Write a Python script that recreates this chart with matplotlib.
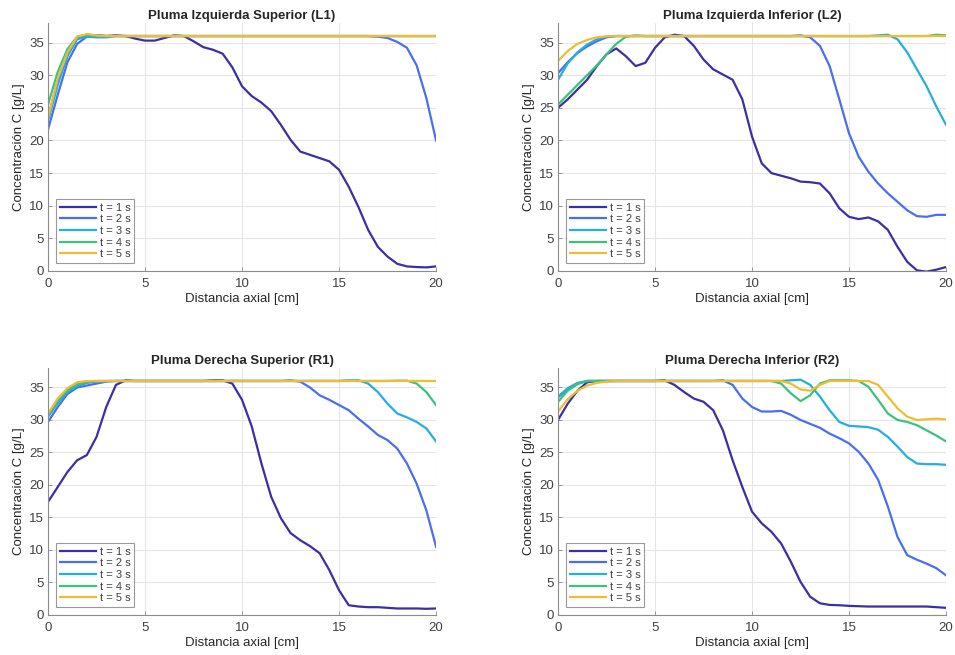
import numpy as np
import matplotlib
matplotlib.use("Agg")
import matplotlib.pyplot as plt

plt.rcParams['font.family'] = ['Liberation Sans', 'DejaVu Sans']

# posicion axial (cm)
x = [0.0, 0.5, 1.0, 1.5, 2.0, 2.5, 3.0, 3.5, 4.0, 4.5, 5.0, 5.5, 6.0, 6.5,
     7.0, 7.5, 8.0, 8.5, 9.0, 9.5, 10.0, 10.5, 11.0, 11.5, 12.0, 12.5, 13.0,
     13.5, 14.0, 14.5, 15.0, 15.5, 16.0, 16.5, 17.0, 17.5, 18.0, 18.5, 19.0,
     19.5, 20.0]

labels = ['t = 1 s', 't = 2 s', 't = 3 s', 't = 4 s', 't = 5 s']
colors = ['#3B2FA6', '#4A6EF2', '#25AEE0', '#3CC27B', '#F0BC32']

titles = ['Pluma Izquierda Superior (L1)', 'Pluma Izquierda Inferior (L2)',
          'Pluma Derecha Superior (R1)', 'Pluma Derecha Inferior (R2)']

# L1
L1_t1 = [23.5, 29.0, 33.0, 35.8, 36.2, 36.1, 36.0, 36.1, 36.0, 35.6, 35.3, 35.3, 35.7, 36.1,
         36.0, 35.2, 34.3, 33.9, 33.3, 31.2, 28.3, 26.8, 25.8, 24.5, 22.4, 20.1, 18.3,
         17.8, 17.3, 16.8, 15.5, 12.9, 9.8, 6.3, 3.7, 2.2, 1.1, 0.7, 0.6, 0.55, 0.7]
L1_t2 = [21.7, 27.0, 32.0, 34.8, 35.9, 36.1, 36.0, 36.0, 36.0, 36.0, 36.0, 36.0, 36.0, 36.0,
         36.0, 36.0, 36.0, 36.0, 36.0, 36.0, 36.0, 36.0, 36.0, 36.0, 36.0, 36.0, 36.0,
         36.0, 36.0, 36.0, 36.0, 36.0, 36.0, 36.0, 35.9, 35.7, 35.1, 34.2, 31.5, 26.5, 20.0]
L1_t3 = [23.0, 28.5, 33.0, 35.5, 35.9, 35.8, 35.8, 36.0, 36.0, 36.0, 36.0, 36.0, 36.0, 36.0,
         36.0, 36.0, 36.0, 36.0, 36.0, 36.0, 36.0, 36.0, 36.0, 36.0, 36.0, 36.0, 36.0,
         36.0, 36.0, 36.0, 36.0, 36.0, 36.0, 36.0, 36.0, 36.0, 36.0, 36.0, 36.0, 36.0, 36.0]
L1_t4 = [25.5, 30.5, 34.0, 35.9, 36.2, 36.0, 36.0, 36.0, 36.0, 36.0, 36.0, 36.0, 36.0, 36.0,
         36.0, 36.0, 36.0, 36.0, 36.0, 36.0, 36.0, 36.0, 36.0, 36.0, 36.0, 36.0, 36.0,
         36.0, 36.0, 36.0, 36.0, 36.0, 36.0, 36.0, 36.0, 36.0, 36.0, 36.0, 36.0, 36.0, 36.0]
L1_t5 = [23.5, 29.5, 33.5, 35.9, 36.3, 36.1, 36.0, 36.0, 36.0, 36.0, 36.0, 36.0, 36.0, 36.0,
         36.0, 36.0, 36.0, 36.0, 36.0, 36.0, 36.0, 36.0, 36.0, 36.0, 36.0, 36.0, 36.0,
         36.0, 36.0, 36.0, 36.0, 36.0, 36.0, 36.0, 36.0, 36.0, 36.0, 36.0, 36.0, 36.0, 36.0]

# L2
L2_t1 = [25.0, 26.3, 27.8, 29.3, 31.4, 33.2, 34.1, 32.9, 31.4, 31.9, 34.2, 35.8, 36.2, 36.0,
         34.5, 32.4, 30.9, 30.1, 29.3, 26.3, 20.6, 16.5, 15.0, 14.6, 14.2, 13.7, 13.6,
         13.4, 11.9, 9.6, 8.3, 7.95, 8.2, 7.6, 6.3, 3.7, 1.4, 0.1, -0.1, 0.2, 0.6]
L2_t2 = [30.3, 32.0, 33.4, 34.4, 35.2, 35.8, 36.0, 36.0, 36.0, 36.0, 36.0, 36.0, 36.0, 36.0,
         36.0, 36.0, 36.0, 36.0, 36.0, 36.0, 36.0, 36.0, 36.0, 36.0, 36.0, 36.1, 35.8,
         34.5, 31.4, 26.3, 21.1, 17.5, 15.2, 13.4, 11.9, 10.6, 9.3, 8.4, 8.3, 8.6, 8.6]
L2_t3 = [29.3, 31.8, 33.5, 34.7, 35.5, 35.9, 36.0, 36.0, 36.0, 36.0, 36.0, 36.0, 36.0, 36.0,
         36.0, 36.0, 36.0, 36.0, 36.0, 36.0, 36.0, 36.0, 36.0, 36.0, 36.0, 36.0, 36.0,
         36.0, 36.0, 36.0, 36.0, 36.0, 36.0, 36.1, 36.2, 35.5, 33.5, 30.9, 28.3, 25.2, 22.4]
L2_t4 = [25.5, 27.0, 28.5, 30.0, 31.5, 33.2, 34.8, 35.9, 36.1, 36.0, 36.0, 36.0, 36.0, 36.0,
         36.0, 36.0, 36.0, 36.0, 36.0, 36.0, 36.0, 36.0, 36.0, 36.0, 36.0, 36.0, 36.0,
         36.0, 36.0, 36.0, 36.0, 36.0, 36.0, 36.0, 36.0, 36.0, 36.0, 36.0, 36.0, 36.2, 36.1]
L2_t5 = [32.2, 33.7, 34.8, 35.4, 35.8, 35.95, 36.0, 36.0, 36.0, 36.0, 36.0, 36.0, 36.0, 36.0,
         36.0, 36.0, 36.0, 36.0, 36.0, 36.0, 36.0, 36.0, 36.0, 36.0, 36.0, 36.0, 36.0,
         36.0, 36.0, 36.0, 36.0, 36.0, 36.0, 36.0, 36.0, 36.0, 36.0, 36.0, 36.0, 36.0, 36.0]

# R1
R1_t1 = [17.4, 19.7, 22.0, 23.8, 24.6, 27.4, 32.0, 35.4, 36.1, 36.0, 36.0, 36.0, 36.0, 36.0,
         36.0, 36.0, 36.0, 36.1, 36.1, 35.6, 33.1, 29.0, 23.3, 18.2, 14.9, 12.6, 11.5,
         10.6, 9.5, 6.9, 3.8, 1.5, 1.3, 1.2, 1.2, 1.1, 1.0, 1.0, 1.0, 0.95, 1.0]
R1_t2 = [29.7, 32.0, 34.0, 35.0, 35.3, 35.6, 35.9, 36.0, 36.0, 36.0, 36.0, 36.0, 36.0, 36.0,
         36.0, 36.0, 36.0, 36.0, 36.0, 36.0, 36.0, 36.0, 36.0, 36.0, 36.0, 36.1, 35.9,
         35.0, 33.8, 33.1, 32.3, 31.5, 30.2, 29.0, 27.7, 26.9, 25.6, 23.3, 20.2, 16.1, 10.5]
R1_t3 = [30.5, 32.6, 34.3, 35.2, 35.7, 35.9, 36.0, 36.0, 36.0, 36.0, 36.0, 36.0, 36.0, 36.0,
         36.0, 36.0, 36.0, 36.0, 36.0, 36.0, 36.0, 36.0, 36.0, 36.0, 36.0, 36.0, 36.0,
         36.0, 36.0, 36.0, 36.0, 36.1, 36.1, 35.6, 34.3, 32.5, 31.0, 30.4, 29.7, 28.7, 26.7]
R1_t4 = [30.8, 33.0, 34.6, 35.5, 35.9, 36.0, 36.0, 36.0, 36.0, 36.0, 36.0, 36.0, 36.0, 36.0,
         36.0, 36.0, 36.0, 36.0, 36.0, 36.0, 36.0, 36.0, 36.0, 36.0, 36.0, 36.0, 36.0,
         36.0, 36.0, 36.0, 36.0, 36.0, 36.0, 36.0, 36.0, 36.0, 36.05, 36.05, 35.6, 34.3, 32.3]
R1_t5 = [31.0, 33.3, 34.9, 35.8, 36.0, 36.0, 36.0, 36.0, 36.0, 36.0, 36.0, 36.0, 36.0, 36.0,
         36.0, 36.0, 36.0, 36.0, 36.0, 36.0, 36.0, 36.0, 36.0, 36.0, 36.0, 36.0, 36.0,
         36.0, 36.0, 36.0, 36.0, 36.0, 36.0, 36.0, 36.0, 36.0, 36.0, 36.0, 36.0, 36.0, 36.0]

# R2
R2_t1 = [30.0, 32.5, 34.5, 35.8, 36.0, 36.0, 36.0, 36.0, 36.0, 36.0, 36.0, 36.1, 35.4, 34.3,
         33.3, 32.8, 31.5, 28.4, 23.8, 19.7, 15.9, 14.1, 12.8, 11.0, 8.2, 5.1, 2.8,
         1.8, 1.55, 1.5, 1.4, 1.35, 1.3, 1.3, 1.3, 1.3, 1.3, 1.3, 1.3, 1.2, 1.1]
R2_t2 = [33.5, 34.7, 35.6, 36.0, 36.0, 36.0, 36.0, 36.0, 36.0, 36.0, 36.0, 36.0, 36.0, 36.0,
         36.0, 36.0, 36.0, 36.1, 35.4, 33.3, 32.0, 31.3, 31.3, 31.4, 30.8, 30.0, 29.4,
         28.8, 27.9, 27.2, 26.4, 25.1, 23.3, 20.8, 16.7, 12.0, 9.2, 8.5, 7.9, 7.2, 6.1]
R2_t3 = [33.6, 34.9, 35.7, 36.0, 36.0, 36.0, 36.0, 36.0, 36.0, 36.0, 36.0, 36.0, 36.0, 36.0,
         36.0, 36.0, 36.0, 36.0, 36.0, 36.0, 36.0, 36.0, 36.0, 36.0, 36.1, 36.2, 35.4,
         33.6, 31.5, 29.7, 29.1, 29.0, 28.9, 28.5, 27.4, 25.9, 24.3, 23.3, 23.2, 23.2, 23.1]
R2_t4 = [32.8, 34.5, 35.5, 36.0, 36.0, 36.0, 36.0, 36.0, 36.0, 36.0, 36.0, 36.0, 36.0, 36.0,
         36.0, 36.0, 36.0, 36.0, 36.0, 36.0, 36.0, 36.0, 36.0, 35.6, 34.1, 32.9, 33.8,
         35.6, 36.1, 36.1, 36.1, 36.0, 35.1, 33.1, 31.0, 30.0, 29.7, 29.2, 28.4, 27.6, 26.7]
R2_t5 = [31.3, 33.2, 34.5, 35.3, 35.7, 35.9, 36.0, 36.0, 36.0, 36.0, 36.0, 36.0, 36.0, 36.0,
         36.0, 36.0, 36.0, 36.0, 36.0, 36.0, 36.0, 36.0, 36.0, 36.0, 35.6, 34.7, 34.5,
         35.4, 36.0, 36.0, 36.0, 36.0, 36.0, 35.4, 33.6, 31.8, 30.5, 30.0, 30.1, 30.2, 30.1]

panels = [
    [L1_t1, L1_t2, L1_t3, L1_t4, L1_t5],
    [L2_t1, L2_t2, L2_t3, L2_t4, L2_t5],
    [R1_t1, R1_t2, R1_t3, R1_t4, R1_t5],
    [R2_t1, R2_t2, R2_t3, R2_t4, R2_t5],
]

# posiciones de los ejes en fracciones de la figura
rects = [
    [0.0503, 0.5863, 0.4063, 0.3786],
    [0.5843, 0.5863, 0.4063, 0.3786],
    [0.0503, 0.0611, 0.4063, 0.3771],
    [0.5843, 0.0611, 0.4063, 0.3771],
]

fig = plt.figure(figsize=(9.55, 6.55), dpi=100)

for k in range(4):
    ax = fig.add_axes(rects[k])
    for j in range(5):
        ax.plot(x, panels[k][j], color=colors[j], lw=1.6, label=labels[j],
                solid_joinstyle='round')
    ax.set_xlim(0, 20)
    ax.set_ylim(0, 38)
    ax.set_xticks([0, 5, 10, 15, 20])
    ax.set_yticks([0, 5, 10, 15, 20, 25, 30, 35])
    ax.grid(True, color='#e6e6e6', lw=0.8)
    ax.set_axisbelow(True)
    for s in ['top', 'right']:
        ax.spines[s].set_visible(False)
    for s in ['left', 'bottom']:
        ax.spines[s].set_color('#8c8c8c')
        ax.spines[s].set_linewidth(0.8)
    ax.tick_params(direction='in', length=3, width=0.6, color='#8c8c8c',
                   labelcolor='#404040', labelsize=9.5)
    ax.tick_params(axis='x', pad=5)
    ax.tick_params(axis='y', pad=3)
    ax.set_title(titles[k], fontsize=9.5, fontweight='bold', color='#262626', pad=3)
    ax.set_xlabel('Distancia axial [cm]', fontsize=9.5, color='#262626', labelpad=2)
    ax.set_ylabel('Concentración C [g/L]', fontsize=9.5, color='#262626', labelpad=3)
    leg = ax.legend(loc='lower left', fontsize=8, frameon=True, fancybox=False,
                    handlelength=3.3, handletextpad=0.3, labelspacing=0.15,
                    borderpad=0.3, borderaxespad=0.75)
    leg.get_frame().set_edgecolor('#808080')
    leg.get_frame().set_linewidth(0.8)
    for t in leg.get_texts():
        t.set_color('#404040')

fig.savefig('out.png', dpi=100)
